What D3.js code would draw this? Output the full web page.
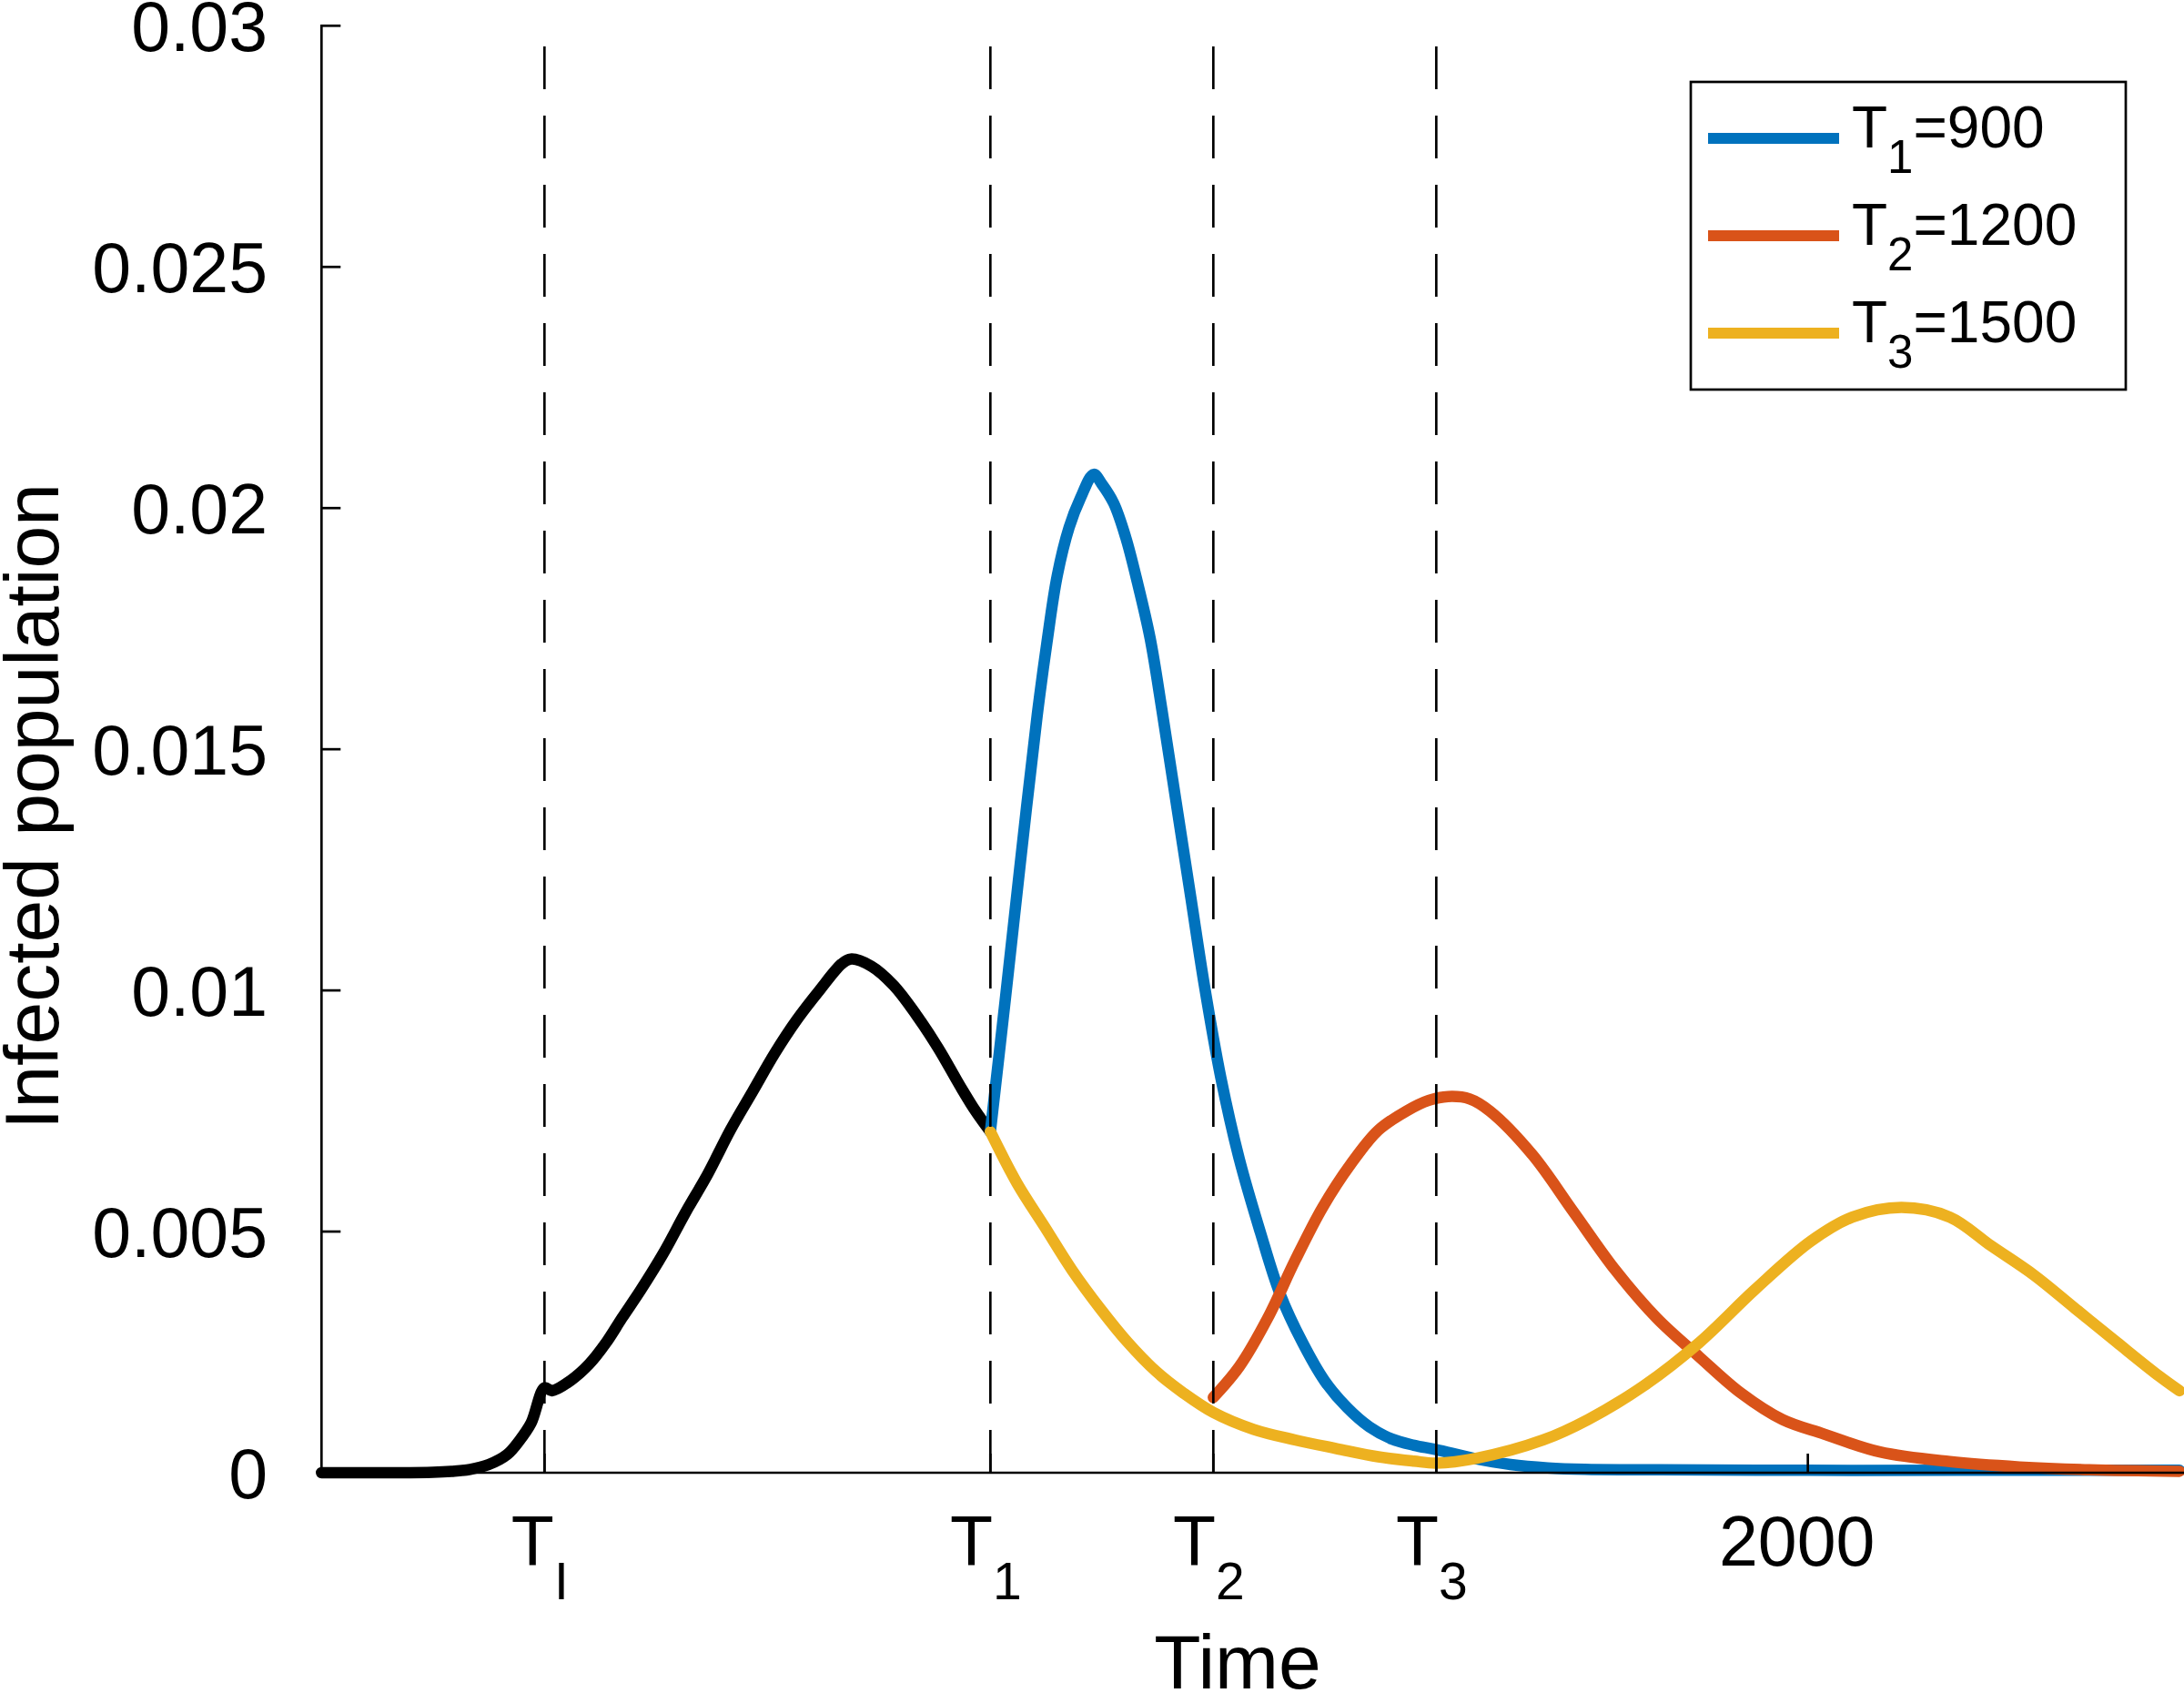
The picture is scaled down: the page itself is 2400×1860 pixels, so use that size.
<!DOCTYPE html>
<html>
<head>
<meta charset="utf-8">
<script src="https://cdn.jsdelivr.net/npm/d3@7"></script>
<style>
  html, body { margin: 0; padding: 0; background: #fff; }
  svg { display: block; font-family: "Liberation Sans", Arial, Helvetica, sans-serif; }
</style>
</head>
<body>
<svg id="chart" width="2400" height="1860"></svg>
<script>
// ---------------- data ----------------
const blackT = [0, 50, 100, 150, 175, 200, 225, 250, 266, 282, 300, 310, 335, 360, 384, 404, 430, 460, 490, 520, 550, 580, 610, 640, 670, 700, 712, 740, 770, 800, 830, 860, 880, 900];
const blackV = [0, 0, 0, 0.00001, 0.00003, 0.00007, 0.00017, 0.00038, 0.00066, 0.00103, 0.00176, 0.0017, 0.00191, 0.00225, 0.00272, 0.0032, 0.0038, 0.00455, 0.0054, 0.0062, 0.0071, 0.0079, 0.0087, 0.0094, 0.0100, 0.01055, 0.01065, 0.0105, 0.0101, 0.0095, 0.0088, 0.0080, 0.0075, 0.00707];

const blueT = [900, 920, 940, 963, 976, 990, 1006, 1021, 1039, 1050, 1066, 1082, 1098, 1115, 1131, 1150, 1170, 1188, 1210, 1235, 1263, 1290, 1320, 1350, 1380, 1410, 1440, 1470, 1500, 1550, 1600, 1650, 1700, 1800, 2000, 2200, 2500];
const blueV = [0.00707, 0.0098, 0.0126, 0.0157, 0.0172, 0.0186, 0.0196, 0.0202, 0.0207, 0.0205, 0.0201, 0.0194, 0.01845, 0.0173, 0.0158, 0.0139, 0.0119, 0.0101, 0.0082, 0.0065, 0.0050, 0.0037, 0.0027, 0.0019, 0.00135, 0.00095, 0.0007, 0.00057, 0.00048, 0.0003, 0.00017, 0.0001, 0.00007, 0.00006, 0.00005, 0.00005, 0.00005];

const redT = [1200, 1235, 1273, 1310, 1347, 1385, 1422, 1460, 1490, 1516, 1545, 1572, 1629, 1685, 1741, 1797, 1854, 1910, 1966, 2022, 2097, 2191, 2285, 2379, 2500];
const redV = [0.00156, 0.0022, 0.0032, 0.0044, 0.0055, 0.0064, 0.0071, 0.0075, 0.00772, 0.0078, 0.00775, 0.0075, 0.0066, 0.0054, 0.0042, 0.0032, 0.0024, 0.00165, 0.0011, 0.0008, 0.00043, 0.00023, 0.00012, 0.00006, 0.00003];

const yellowT = [900, 936, 973, 1010, 1048, 1085, 1123, 1160, 1200, 1254, 1310, 1366, 1422, 1470, 1500, 1554, 1644, 1704, 1779, 1854, 1929, 2004, 2060, 2126, 2191, 2247, 2304, 2360, 2416, 2473, 2500];
const yellowV = [0.00707, 0.006, 0.0051, 0.0042, 0.0034, 0.0027, 0.0021, 0.00165, 0.00125, 0.0009, 0.00068, 0.0005, 0.00033, 0.00024, 0.0002, 0.0003, 0.00068, 0.0011, 0.0018, 0.0027, 0.0038, 0.0048, 0.0053, 0.0055, 0.0053, 0.0047, 0.0041, 0.0034, 0.0027, 0.002, 0.0017];

const yTickValues = [0, 0.005, 0.01, 0.015, 0.02, 0.025, 0.03];
const yTickLabels = ["0", "0.005", "0.01", "0.015", "0.02", "0.025", "0.03"];
const xTickValues = [300, 900, 1200, 1500, 2000];
const xTickMain = ["T", "T", "T", "T", "2000"];
const xTickSub = ["I", "1", "2", "3", ""];
const markerTimes = [300, 900, 1200, 1500];

const legendSub = ["1", "2", "3"];
const legendValues = ["900", "1200", "1500"];
const seriesColors = ["#0072BD", "#D95319", "#EDB120"];

const xLabel = "Time";
const yLabel = "Infected population";

// ---------------- drawing ----------------
const svg = d3.select("#chart");
const x = d3.scaleLinear().domain([0, 2500]).range([353.3, 2395]);
const y = d3.scaleLinear().domain([0, 0.03]).range([1618, 28.3]);

const line = d3.line()
  .x(d => x(d[0]))
  .y(d => y(d[1]))
  .curve(d3.curveCatmullRom.alpha(0.5));

const zip = (ts, vs) => ts.map((t, i) => [t, vs[i]]);

const curves = [
  { data: zip(blackT, blackV), color: "#000000" },
  { data: zip(blueT, blueV), color: seriesColors[0] },
  { data: zip(redT, redV), color: seriesColors[1] },
  { data: zip(yellowT, yellowV), color: seriesColors[2] }
];

svg.append("g").selectAll("path").data(curves).join("path")
  .attr("d", d => line(d.data))
  .attr("fill", "none")
  .attr("stroke", d => d.color)
  .attr("stroke-width", 12.5)
  .attr("stroke-linejoin", "round")
  .attr("stroke-linecap", "round");

// dashed vertical markers (drawn from bottom upward)
svg.append("g").selectAll("line").data(markerTimes).join("line")
  .attr("x1", d => x(d)).attr("x2", d => x(d))
  .attr("y1", y(0)).attr("y2", y(0.03))
  .attr("stroke", "#000")
  .attr("stroke-width", 2.7)
  .attr("stroke-dasharray", "47 29");

// axes
const axisColor = "#000";
const gAxes = svg.append("g");
gAxes.append("line")
  .attr("x1", x(0)).attr("x2", x(0))
  .attr("y1", y(0)).attr("y2", y(0.03))
  .attr("stroke", axisColor).attr("stroke-width", 2.7).attr("stroke-linecap", "square");
gAxes.append("line")
  .attr("x1", x(0)).attr("x2", 2400)
  .attr("y1", y(0)).attr("y2", y(0))
  .attr("stroke", axisColor).attr("stroke-width", 2.7);

// y ticks
gAxes.selectAll(".ytick").data(yTickValues).join("line")
  .attr("class", "ytick")
  .attr("x1", x(0)).attr("x2", x(0) + 21)
  .attr("y1", d => y(d)).attr("y2", d => y(d))
  .attr("stroke", axisColor).attr("stroke-width", 2.7);

gAxes.selectAll(".ylab").data(yTickValues).join("text")
  .attr("class", "ylab")
  .attr("x", 294)
  .attr("y", d => y(d))
  .attr("dy", "0.36em")
  .attr("text-anchor", "end")
  .attr("font-size", 77)
  .attr("fill", "#000")
  .text((d, i) => yTickLabels[i]);

// x ticks
gAxes.selectAll(".xtick").data(xTickValues).join("line")
  .attr("class", "xtick")
  .attr("x1", d => x(d)).attr("x2", d => x(d))
  .attr("y1", y(0)).attr("y2", y(0) - 21)
  .attr("stroke", axisColor).attr("stroke-width", 2.7);

const xl = gAxes.selectAll(".xlab").data(xTickValues).join("text")
  .attr("class", "xlab")
  .attr("x", d => x(d))
  .attr("y", 1720)
  .attr("dx", (d, i) => xTickSub[i] ? -5 : -12)
  .attr("text-anchor", "middle")
  .attr("font-size", 77)
  .attr("fill", "#000");
xl.each(function(d, i) {
  const t = d3.select(this);
  t.append("tspan").text(xTickMain[i]);
  if (xTickSub[i]) {
    t.append("tspan").attr("font-size", 57).attr("dy", 37).text(xTickSub[i]);
  }
});

// axis titles
svg.append("text")
  .attr("x", 1360).attr("y", 1855)
  .attr("text-anchor", "middle")
  .attr("font-size", 84)
  .attr("fill", "#000")
  .text(xLabel);

svg.append("text")
  .attr("transform", "translate(64,886) rotate(-90)")
  .attr("text-anchor", "middle")
  .attr("font-size", 84)
  .attr("fill", "#000")
  .text(yLabel);

// legend
const lg = svg.append("g");
lg.append("rect")
  .attr("x", 1858).attr("y", 90)
  .attr("width", 478).attr("height", 338)
  .attr("fill", "#fff")
  .attr("stroke", "#000").attr("stroke-width", 2.7);

const rowY = [152, 259, 366];
legendValues.forEach((v, i) => {
  lg.append("line")
    .attr("x1", 1877).attr("x2", 2021)
    .attr("y1", rowY[i]).attr("y2", rowY[i])
    .attr("stroke", seriesColors[i]).attr("stroke-width", 12);
  const t = lg.append("text")
    .attr("x", 2035).attr("y", rowY[i] + 10)
    .attr("font-size", 64)
    .attr("fill", "#000");
  t.append("tspan").text("T");
  t.append("tspan").attr("font-size", 51).attr("dy", 28).text(legendSub[i]);
  t.append("tspan").attr("dy", -28).text("=" + v);
});
</script>
</body>
</html>
